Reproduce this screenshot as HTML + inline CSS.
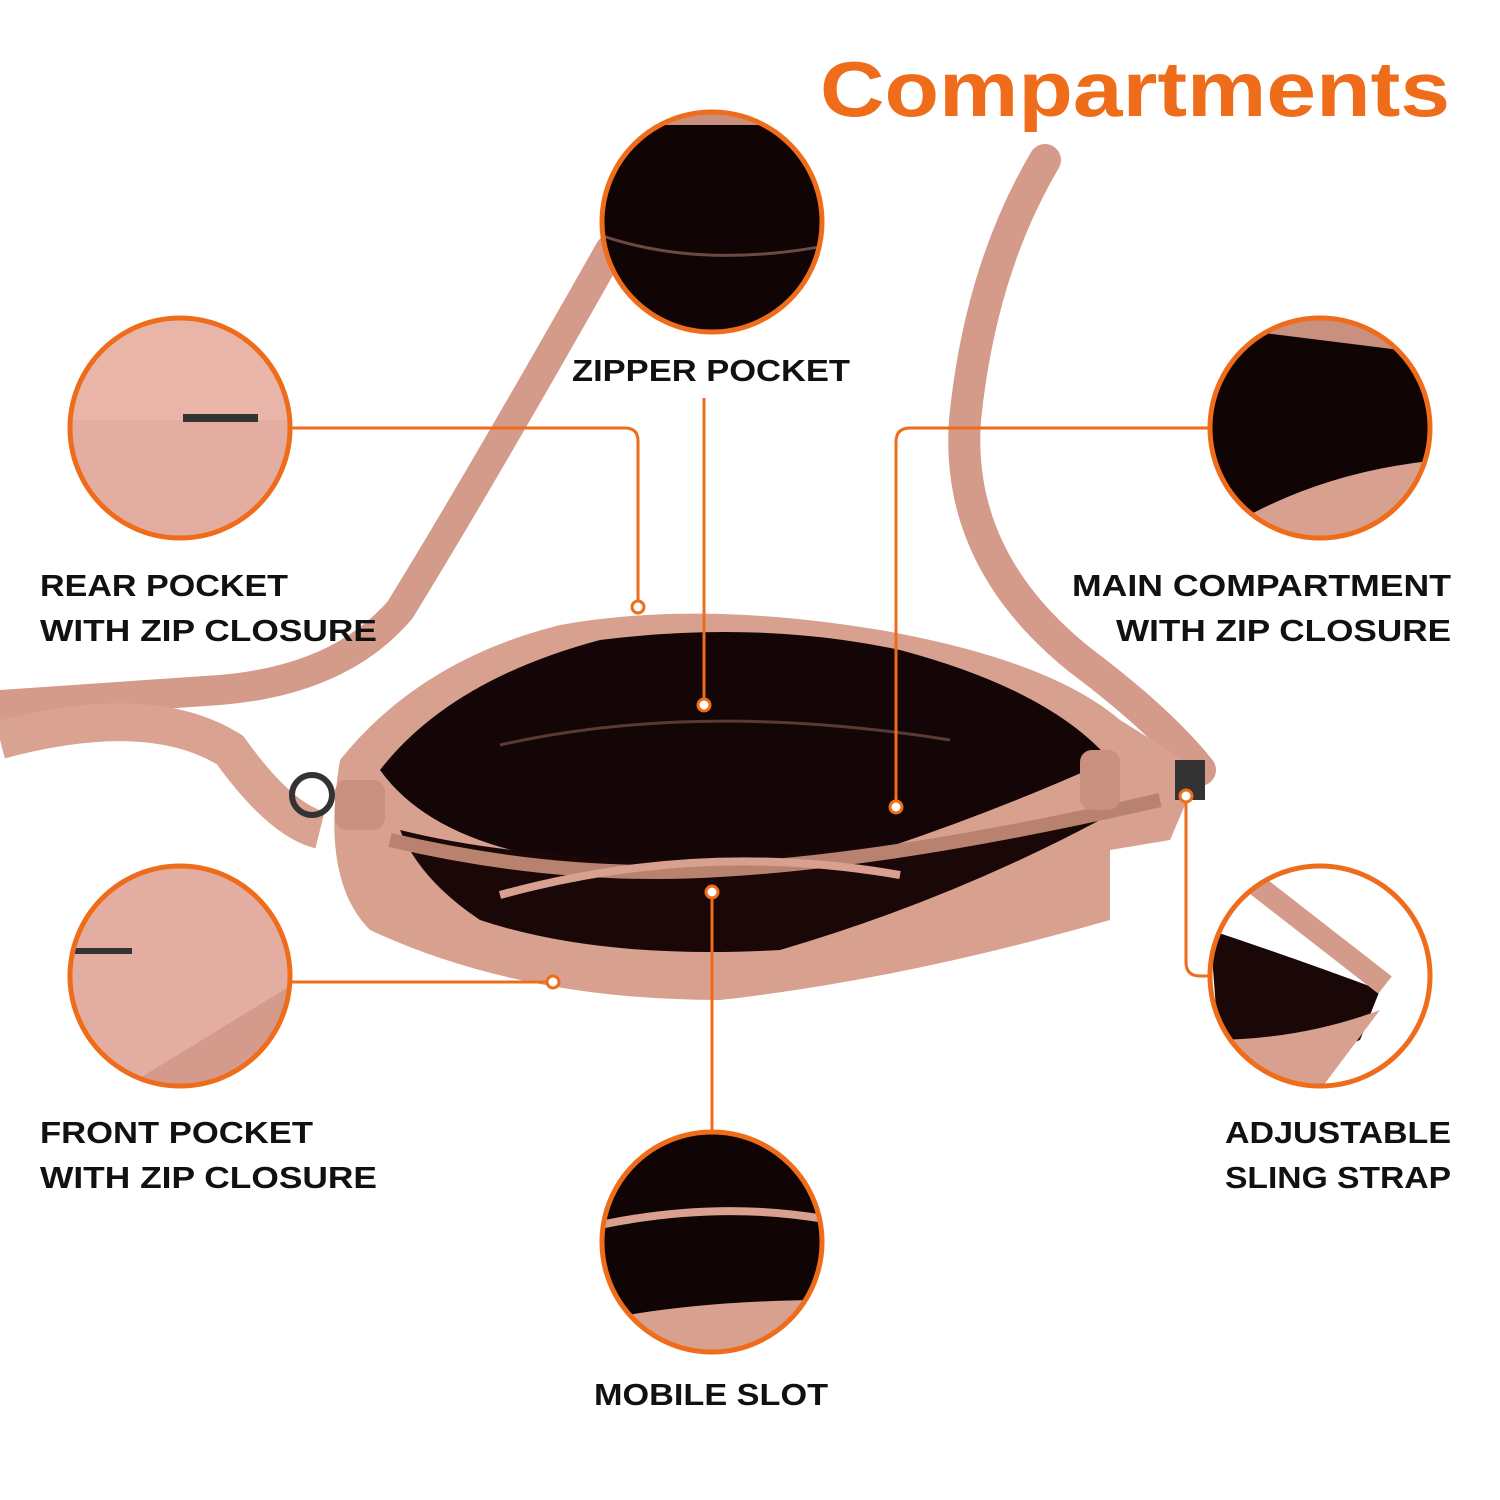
<!DOCTYPE html>
<html><head><meta charset="utf-8"><style>
html,body{margin:0;padding:0;background:#fff}
svg{display:block}
text{font-family:"Liberation Sans",sans-serif}
</style></head><body>
<svg width="1500" height="1500" viewBox="0 0 1500 1500" xmlns="http://www.w3.org/2000/svg">
<defs>
<clipPath id="c1"><circle cx="180" cy="428" r="110"/></clipPath>
<clipPath id="c2"><circle cx="712" cy="222" r="110"/></clipPath>
<clipPath id="c3"><circle cx="1320" cy="428" r="110"/></clipPath>
<clipPath id="c4"><circle cx="180" cy="976" r="110"/></clipPath>
<clipPath id="c5"><circle cx="1320" cy="976" r="110"/></clipPath>
<clipPath id="c6"><circle cx="712" cy="1242" r="110"/></clipPath>
</defs>
<rect width="1500" height="1500" fill="#fff"/>
<text x="820" y="116" font-size="78" font-weight="bold" fill="#ef6c1a" textLength="630" lengthAdjust="spacingAndGlyphs">Compartments</text>

<!-- straps -->
<path d="M0 705 L220 690 Q340 680 400 610 Q480 480 610 250" stroke="#d49a8a" stroke-width="30" fill="none" stroke-linecap="round"/>
<path d="M0 740 Q150 700 230 750 Q280 820 320 830" stroke="#d9a291" stroke-width="38" fill="none"/>
<path d="M1045 160 Q980 270 965 420 Q955 560 1080 660 Q1160 720 1200 770" stroke="#d49a8a" stroke-width="32" fill="none" stroke-linecap="round"/>
<circle cx="312" cy="795" r="20" fill="none" stroke="#333" stroke-width="6"/>

<!-- bag -->
<path d="M340 760 Q420 660 560 625 Q700 600 880 630 Q1050 660 1120 720 L1200 770 L1170 840 L1110 850 L1110 920 Q900 980 720 1000 Q520 1000 370 930 Q320 880 340 760Z" fill="#d7a08f"/>
<path d="M380 770 Q450 680 600 640 Q760 620 900 650 Q1050 690 1110 760 Q1000 810 880 850 Q720 880 560 860 Q430 840 380 770Z" fill="#140606"/>
<path d="M400 830 Q520 860 700 860 Q880 850 1100 820 Q950 900 780 950 Q600 960 480 920 Q420 880 400 830Z" fill="#1a0808"/>
<path d="M390 840 Q560 880 720 870 Q900 860 1160 800" stroke="#b8826f" stroke-width="14" fill="none"/>
<path d="M500 895 Q700 840 900 875" stroke="#d7a08f" stroke-width="8" fill="none"/>
<path d="M500 745 Q700 700 950 740" stroke="#5a3a33" stroke-width="3" fill="none"/>
<rect x="335" y="780" width="50" height="50" rx="12" fill="#c99080"/>
<rect x="1080" y="750" width="40" height="60" rx="12" fill="#c99080"/>
<rect x="1175" y="760" width="30" height="40" fill="#333"/>

<!-- circles -->
<g clip-path="url(#c1)"><rect x="60" y="310" width="240" height="240" fill="#e3aea1"/><rect x="60" y="310" width="240" height="110" fill="#e8b5a8"/><rect x="183" y="414" width="75" height="8" fill="#333"/></g>
<circle cx="180" cy="428" r="110" fill="none" stroke="#ef6c1a" stroke-width="5"/>
<g clip-path="url(#c2)"><rect x="590" y="100" width="250" height="250" fill="#100404"/><rect x="590" y="100" width="250" height="25" fill="#c99080"/><path d="M600 235 Q700 270 830 245" stroke="#6b4a44" stroke-width="3" fill="none"/></g>
<circle cx="712" cy="222" r="110" fill="none" stroke="#ef6c1a" stroke-width="5"/>
<g clip-path="url(#c3)"><rect x="1200" y="310" width="250" height="250" fill="#100404"/><path d="M1200 325 L1440 355 L1440 320 L1200 310Z" fill="#c99080"/><path d="M1240 520 Q1330 470 1440 460 L1440 560 L1240 560Z" fill="#d7a08f"/></g>
<circle cx="1320" cy="428" r="110" fill="none" stroke="#ef6c1a" stroke-width="5"/>
<g clip-path="url(#c4)"><rect x="60" y="860" width="240" height="240" fill="#e3aea1"/><path d="M120 1090 L300 980 L300 1100Z" fill="#d49b8c"/><rect x="72" y="948" width="60" height="6" fill="#333"/></g>
<circle cx="180" cy="976" r="110" fill="none" stroke="#ef6c1a" stroke-width="5"/>
<g clip-path="url(#c5)"><rect x="1200" y="860" width="250" height="250" fill="#fff"/><path d="M1210 930 Q1300 960 1380 990 L1360 1040 Q1290 1070 1220 1060Z" fill="#1a0808"/><path d="M1250 880 L1385 985" stroke="#d49a8a" stroke-width="22" fill="none"/><path d="M1210 1040 Q1300 1040 1380 1010 L1320 1090 L1210 1090Z" fill="#d7a08f"/></g>
<circle cx="1320" cy="976" r="110" fill="none" stroke="#ef6c1a" stroke-width="5"/>
<g clip-path="url(#c6)"><rect x="590" y="1120" width="250" height="250" fill="#100404"/><path d="M600 1225 Q720 1200 830 1220" stroke="#d7a08f" stroke-width="8" fill="none"/><path d="M600 1320 Q700 1300 830 1300 L830 1360 L600 1360Z" fill="#d7a08f"/></g>
<circle cx="712" cy="1242" r="110" fill="none" stroke="#ef6c1a" stroke-width="5"/>

<!-- connectors -->
<g stroke="#ef6c1a" stroke-width="3" fill="none">
<path d="M292 428 L625 428 Q638 428 638 441 L638 600"/>
<path d="M704 398 L704 700"/>
<path d="M1208 428 L910 428 Q896 428 896 442 L896 800"/>
<path d="M292 982 L548 982"/>
<path d="M712 898 L712 1130"/>
<path d="M1186 800 L1186 962 Q1186 976 1200 976 L1210 976"/>
</g>
<g fill="#fff" stroke="#ef6c1a" stroke-width="3">
<circle cx="638" cy="607" r="6"/><circle cx="704" cy="705" r="6"/><circle cx="896" cy="807" r="6"/>
<circle cx="553" cy="982" r="6"/><circle cx="712" cy="892" r="6"/><circle cx="1186" cy="796" r="6"/>
</g>

<!-- labels -->
<g font-size="31" font-weight="bold" fill="#111">
<text x="572" y="381" textLength="278" lengthAdjust="spacingAndGlyphs">ZIPPER POCKET</text>
<text x="40" y="596" textLength="248" lengthAdjust="spacingAndGlyphs">REAR POCKET</text>
<text x="40" y="641" textLength="337" lengthAdjust="spacingAndGlyphs">WITH ZIP CLOSURE</text>
<text x="1072" y="596" textLength="379" lengthAdjust="spacingAndGlyphs">MAIN COMPARTMENT</text>
<text x="1116" y="641" textLength="335" lengthAdjust="spacingAndGlyphs">WITH ZIP CLOSURE</text>
<text x="40" y="1143" textLength="273" lengthAdjust="spacingAndGlyphs">FRONT POCKET</text>
<text x="40" y="1188" textLength="337" lengthAdjust="spacingAndGlyphs">WITH ZIP CLOSURE</text>
<text x="1225" y="1143" textLength="226" lengthAdjust="spacingAndGlyphs">ADJUSTABLE</text>
<text x="1225" y="1188" textLength="226" lengthAdjust="spacingAndGlyphs">SLING STRAP</text>
<text x="594" y="1405" textLength="234" lengthAdjust="spacingAndGlyphs">MOBILE SLOT</text>
</g>
</svg>
</body></html>
